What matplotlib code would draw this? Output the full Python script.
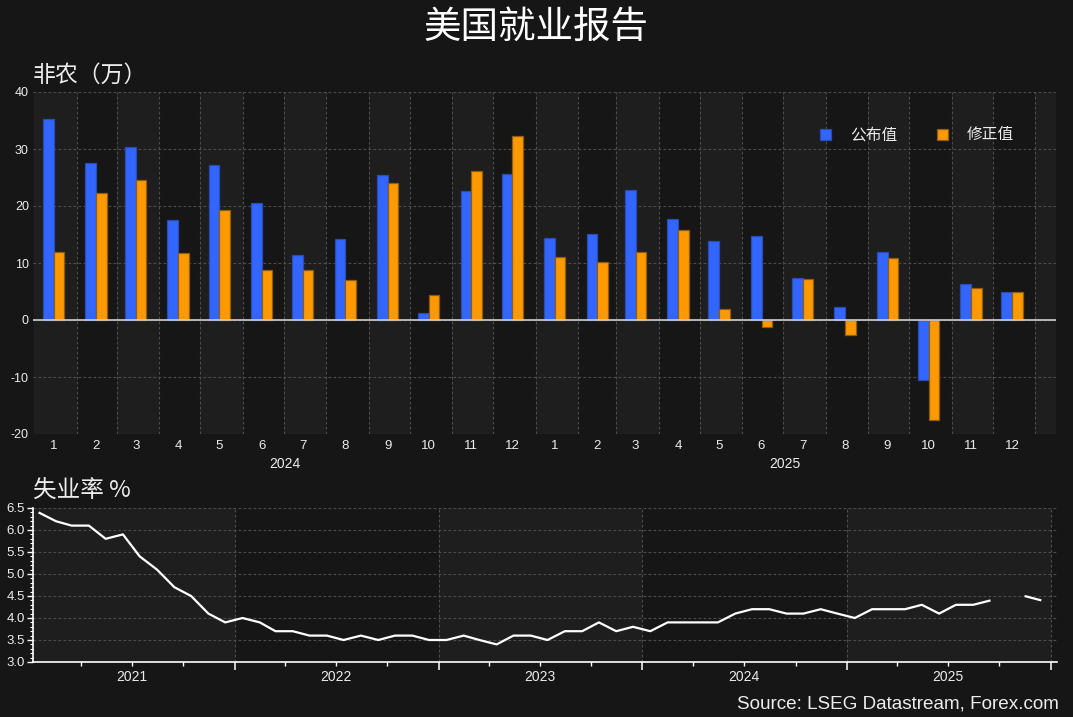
import matplotlib
matplotlib.use('Agg')
import matplotlib.pyplot as plt
import matplotlib.dates as mdates
import matplotlib.transforms as mtransforms
from matplotlib.ticker import MultipleLocator, FixedLocator, NullFormatter, FixedFormatter
import numpy as np
import datetime as dt

# ---------------- data ----------------
nfp_years = [2024, 2025]
nfp_month_labels = ['1', '2', '3', '4', '5', '6', '7', '8', '9', '10', '11', '12']
nfp_initial = [35.3, 27.5, 30.3, 17.5, 27.2, 20.5, 11.4, 14.2, 25.4, 1.2, 22.6, 25.6,
               14.3, 15.1, 22.8, 17.7, 13.8, 14.7, 7.3, 2.2, 11.9, -10.6, 6.3, 4.9]
nfp_revised = [11.9, 22.3, 24.6, 11.7, 19.3, 8.7, 8.7, 7.0, 24.0, 4.3, 26.1, 32.3,
               11.0, 10.1, 11.9, 15.8, 1.9, -1.3, 7.2, -2.7, 10.8, -17.5, 5.6, 4.9]
series_names = ['公布值', '修正值']

unemp_years = [2021, 2022, 2023, 2024, 2025]
unemp_rate = [6.4, 6.2, 6.1, 6.1, 5.8, 5.9, 5.4, 5.1, 4.7, 4.5, 4.1, 3.9,
              4.0, 3.9, 3.7, 3.7, 3.6, 3.6, 3.5, 3.6, 3.5, 3.6, 3.6, 3.5,
              3.5, 3.6, 3.5, 3.4, 3.6, 3.6, 3.5, 3.7, 3.7, 3.9, 3.7, 3.8,
              3.7, 3.9, 3.9, 3.9, 3.9, 4.1, 4.2, 4.2, 4.1, 4.1, 4.2, 4.1,
              4.0, 4.2, 4.2, 4.2, 4.3, 4.1, 4.3, 4.3, 4.4, np.nan, 4.5, 4.4]

title = '美国就业报告'
sub1 = '非农（万）'
sub2 = '失业率 %'
source = 'Source: LSEG Datastream, Forex.com'

# ---------------- style ----------------
BG = '#161616'
BAND = '#1e1e1e'
GRID = '#4d4d4d'
TXT = '#ececec'
BLUE = '#3366ff'
BLUE_E = '#2a4db5'
ORANGE = '#ff9900'
ORANGE_E = '#8f5c10'
CJK = ['Noto Sans CJK SC', 'DejaVu Sans']
NUM = ['Liberation Sans', 'DejaVu Sans']
plt.rcParams['font.family'] = NUM

d2n = lambda y, m, d: mdates.date2num(dt.date(y, m, d))

fig = plt.figure(figsize=(10.73, 7.17), dpi=100, facecolor=BG)
W, H = 1073.0, 717.0
ax1 = fig.add_axes([33 / W, 1 - 434 / H, (1056 - 33) / W, (434 - 92) / H])
ax2 = fig.add_axes([33 / W, 1 - 662 / H, (1057 - 33) / W, (662 - 508) / H])

# ---------------- top: NFP bars ----------------
ax1.set_facecolor(BG)
nfp_months = [(y, m) for y in nfp_years for m in range(1, 13)]
mids = np.array([d2n(y, m, 15) for y, m in nfp_months])
starts = [d2n(y, m, 1) for y, m in nfp_months] + [d2n(2026, 1, 1), d2n(2026, 2, 1)]
for i in range(len(starts) - 1):
    if i % 2 == 0:
        ax1.axvspan(starts[i], starts[i + 1], color=BAND, lw=0, zorder=0)

bw = 7.8
ax1.bar(mids - bw / 2, nfp_initial, width=bw, color=BLUE, edgecolor=BLUE_E,
        linewidth=0.9, zorder=3, label=series_names[0])
ax1.bar(mids + bw / 2, nfp_revised, width=bw, color=ORANGE, edgecolor=ORANGE_E,
        linewidth=0.9, zorder=3, label=series_names[1])
ax1.axhline(0, color='#d0d0d0', lw=1.2, zorder=4)

ax1.set_ylim(-20, 40)
ax1.set_xlim(d2n(2023, 12, 31), d2n(2026, 1, 16))
ax1.set_yticks(np.arange(-20, 41, 10))
ax1.set_yticklabels([str(v) for v in range(-20, 41, 10)])
ax1.xaxis.set_major_locator(FixedLocator(starts[1:-1]))
ax1.xaxis.set_major_formatter(NullFormatter())
ax1.xaxis.set_minor_locator(FixedLocator(list(mids)))
ax1.xaxis.set_minor_formatter(FixedFormatter(nfp_month_labels * len(nfp_years)))
ax1.tick_params(axis='x', which='both', length=0, pad=4, labelsize=9.5, labelcolor=TXT)
ax1.tick_params(axis='y', length=0, pad=3, labelsize=9, labelcolor=TXT)
ax1.grid(True, which='major', axis='both', color=GRID, ls=(0, (2.5, 2)), lw=0.8, zorder=1)
for s in ax1.spines.values():
    s.set_visible(False)
tr1 = mtransforms.blended_transform_factory(ax1.transData, ax1.transAxes)
for y in nfp_years:
    ax1.text(d2n(y, 7, 2), -0.088, str(y), transform=tr1, ha='center', va='center',
             fontsize=10, color=TXT)

leg_fs = 11.3
leg = ax1.legend(loc='center left', bbox_to_anchor=(806 / W, 1 - 135 / H),
                 bbox_transform=fig.transFigure, ncol=2, frameon=False,
                 handlelength=0.7, handleheight=0.7, handletextpad=1.2,
                 columnspacing=2.55, borderpad=0.4,
                 prop={'family': CJK, 'size': leg_fs})
for t in leg.get_texts():
    t.set_color(TXT)

# ---------------- bottom: unemployment ----------------
ax2.set_facecolor(BG)
for y in unemp_years[::2]:
    ax2.axvspan(d2n(y, 1, 1), d2n(y + 1, 1, 1), color=BAND, lw=0, zorder=0)
u_dates = [d2n(y, m, 15) for y in unemp_years for m in range(1, 13)]
ax2.plot(u_dates, unemp_rate, color='white', lw=1.6, zorder=3, solid_capstyle='butt')
ax2.set_ylim(3.0, 6.5)
ax2.set_xlim(d2n(2021, 1, 5), d2n(2026, 1, 12))
ax2.set_yticks(np.arange(3.0, 6.51, 0.5))
ax2.set_yticklabels(['%.1f' % v for v in np.arange(3.0, 6.51, 0.5)])
ax2.yaxis.set_minor_locator(MultipleLocator(0.1))
ax2.xaxis.set_major_locator(FixedLocator([d2n(y + 1, 1, 1) for y in unemp_years]))
ax2.xaxis.set_major_formatter(NullFormatter())
ax2.xaxis.set_minor_locator(FixedLocator([d2n(y, m, 1) for y in unemp_years for m in (4, 7, 10)]))
ax2.tick_params(axis='y', which='major', length=4, width=1, color='white', pad=2,
                labelsize=9.5, labelcolor=TXT)
ax2.tick_params(axis='y', which='minor', length=2.2, width=0.8, color='white')
ax2.tick_params(axis='x', which='major', length=6, width=1.1, color='white')
ax2.tick_params(axis='x', which='minor', length=3, width=1, color='white')
ax2.grid(True, which='major', axis='both', color=GRID, ls=(0, (2.5, 2)), lw=0.8, zorder=1)
for k in ('top', 'right'):
    ax2.spines[k].set_visible(False)
for k in ('left', 'bottom'):
    ax2.spines[k].set_color('white')
    ax2.spines[k].set_linewidth(1.2)
tr2 = mtransforms.blended_transform_factory(ax2.transData, ax2.transAxes)
for y in unemp_years:
    ax2.text(d2n(y, 7, 1), -0.1, str(y), transform=tr2, ha='center', va='center',
             fontsize=10, color=TXT)

# ---------------- texts ----------------
fig.text(536 / W, 1 - 27 / H, title, ha='center', va='center', fontsize=27,
         color='white', family=CJK)
fig.text(33 / W, 1 - 75 / H, sub1, ha='left', va='center', fontsize=16.5,
         color=TXT, family=CJK)
fig.text(33 / W, 1 - 491 / H, sub2, ha='left', va='center', fontsize=17,
         color=TXT, family=CJK)
fig.text(1059 / W, 1 - 704 / H, source, ha='right', va='center', fontsize=13.6,
         color=TXT, family=NUM)

fig.savefig('out.png', dpi=100, facecolor=BG)
